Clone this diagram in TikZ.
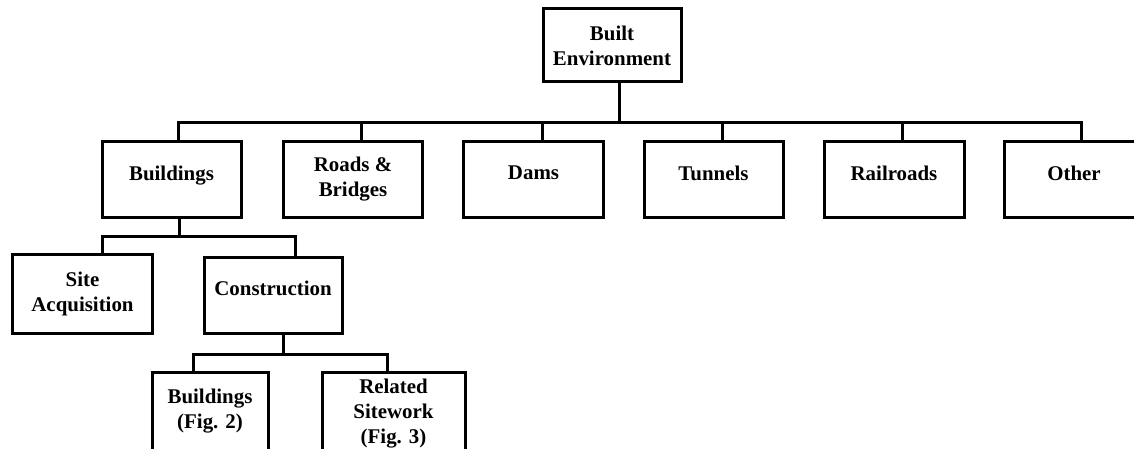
\documentclass[tikz,border=0pt]{standalone}
\usepackage{fontspec}
\setmainfont{Liberation Serif}
\usetikzlibrary{positioning, calc}
\tikzset{
  org box/.style={
    rectangle, draw=black, line width=3pt, fill=white,
    minimum width=139, minimum height=76,
    align=center, font=\bfseries\fontsize{20.9}{25}\selectfont,
    inner sep=2pt
  },
  org single/.style={
    org box, text depth=13
  },
  org wire/.style={
    draw=black, line width=3pt
  }
}

\begin{document}
\begin{tikzpicture}[x=1pt, y=-1pt]
  \useasboundingbox (0,0) rectangle (1134,449);
  \clip (0,0) rectangle (1134,449);

  \node (env) [org box, minimum width=138, minimum height=73] at (612,45.5) {Built\\Environment};

  \node (buildings) [org single] at (171.5,179.5) {Buildings};
  \node (roads) [org box] at (353,179.5) {Roads \&\\Bridges};
  \node (dams) [org single, minimum width=140] at (533.5,179.5) {Dams};
  \node (tunnels) [org single] at (713.5,179.5) {Tunnels};
  \node (railroads) [org single, minimum width=140] at (894,179.5) {Railroads};
  \node (other) [org single, minimum width=140] at (1074,179.5) {Other};

  \node (site) [org box, minimum width=140, minimum height=79] at (82.5,293.5) {Site\\Acquisition};
  \node (construction) [org single, minimum width=138] at (273,295) {Construction};

  \node (bfig) [org box, minimum width=116, minimum height=83, text depth=10] at (210,413.5) {Buildings\\(Fig. 2)};
  \node (related) [org box, minimum width=143, minimum height=83] at (393.5,413.5) {Related\\Sitework\\(Fig. 3)};

  % top level
  \draw [org wire] ([xshift=7]env.south) -- ++(0,39.5);
  \draw [org wire] ([xshift=6.5]buildings.north) -- ++(0,-17) -| ([xshift=7]other.north);
  \foreach \n/\dx in {roads/8, dams/8.5, tunnels/8.5, railroads/8}
    \draw [org wire] ([xshift=\dx]\n.north) -- ++(0,-17);

  % buildings
  \draw [org wire] ([xshift=7.5]buildings.south) -- ++(0,17.5) coordinate (bus mid);
  \draw [org wire] ([xshift=19.5]site.north) |- (bus mid) -| ([xshift=22]construction.north);

  % construction
  \draw [org wire] ([xshift=10]construction.south) -- ++(0,19.5) coordinate (bus low);
  \draw [org wire] ([xshift=-17]bfig.north) |- (bus low) -| ([xshift=-6.5]related.north);
\end{tikzpicture}
\end{document}
